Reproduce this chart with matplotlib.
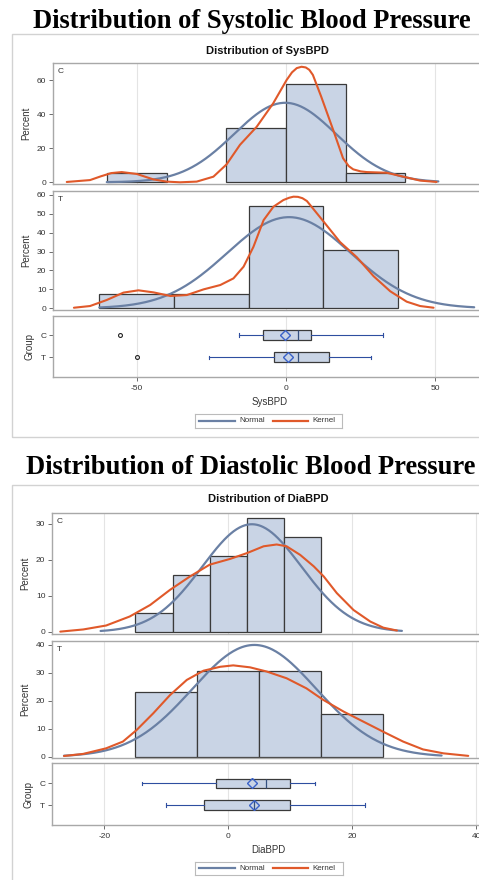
import numpy as np
import matplotlib
matplotlib.use("Agg")
import matplotlib.pyplot as plt
from matplotlib.patches import Rectangle

plt.rcParams['font.family'] = ['Liberation Sans', 'DejaVu Sans']
plt.rcParams['axes.unicode_minus'] = False

W, H, DPI = 479, 880, 100

# ---------------- data ----------------
groups = ["C", "T"]

# Systolic: histogram bins (left edge, width) and percentages
sys_c_left = [-60, -20, 0, 20]
sys_c_pct = [5.26, 31.58, 57.89, 5.26]
sys_c_width = 20
sys_t_left = [-62.5, -37.5, -12.5, 12.5]
sys_t_pct = [7.69, 7.69, 53.85, 30.77]
sys_t_width = 25

# Normal fit: mean, sd, curve range
sys_c_norm = dict(mean=-0.3, sd=17.1, lo=-60.0, hi=51.0)
sys_t_norm = dict(mean=1.0, sd=20.7, lo=-62.5, hi=63.0)

# Kernel density estimate (percent scale)
sys_c_kx = [-73.4, -65.6, -62.0, -58.5, -55.0, -50.0, -44.4, -40.0, -35.5, -29.9,
            -24.3, -19.9, -15.4, -9.8, -4.3, 0.2, 2.0, 3.6, 5.2, 6.6, 7.8, 9.0, 11.8, 15.8,
            19.1, 21.0, 22.5, 25.0, 27.0, 33.7, 39.3, 44.9, 50.4]
sys_c_ky = [0.2, 1.3, 3.5, 5.4, 6.0, 4.9, 1.7, 0.4, 0.0, 0.4,
            3.3, 10.5, 22.0, 32.6, 46.3, 60.0, 64.5, 67.0, 67.8, 67.4, 66.0, 63.0, 50.2, 30.7,
            14.1, 9.5, 7.6, 6.4, 6.0, 5.6, 3.3, 1.0, 0.2]
sys_t_kx = [-71.0, -65.6, -60.0, -54.4, -49.4, -44.3, -38.7, -33.2, -27.6, -22.0,
            -17.6, -14.2, -10.9, -7.5, -4.2, -0.9, 1.0, 2.5, 4.0, 5.5, 7.0, 12.5, 18.1,
            23.7, 29.3, 34.9, 40.4, 44.9, 49.4]
sys_t_ky = [0.3, 1.2, 4.4, 8.3, 9.5, 8.4, 6.5, 7.0, 10.0, 12.3,
            15.8, 22.0, 32.5, 46.6, 53.7, 57.2, 58.4, 59.0, 58.9, 58.2, 56.7, 46.0, 35.0,
            27.0, 17.0, 9.0, 3.5, 1.2, 0.3]

# Box plot statistics
sys_box = [
    dict(whislo=-15.6, q1=-7.6, med=4.1, q3=8.3, whishi=32.4, mean=-0.3, fliers=[-55.6]),
    dict(whislo=-25.8, q1=-4.0, med=4.1, q3=14.3, whishi=28.5, mean=0.8, fliers=[-50.0]),
]

# Diastolic
dia_c_left = [-15, -9, -3, 3, 9]
dia_c_pct = [5.26, 15.79, 21.05, 31.58, 26.32]
dia_c_width = 6
dia_t_left = [-15, -5, 5, 15]
dia_t_pct = [23.08, 30.77, 30.77, 15.38]
dia_t_width = 10

dia_c_norm = dict(mean=3.8, sd=8.0, lo=-20.6, hi=28.0)
dia_t_norm = dict(mean=4.2, sd=10.0, lo=-26.5, hi=34.4)

dia_c_kx = [-27.1, -23.4, -19.7, -15.9, -12.6, -9.4, -6.2, -3.0, 0.3, 3.0, 5.7,
            7.8, 9.4, 11.6, 13.8, 15.4, 17.5, 20.2, 22.9, 25.0, 27.2]
dia_c_ky = [0.1, 0.7, 1.8, 4.3, 7.5, 11.7, 15.4, 18.7, 20.3, 21.9, 23.8,
            24.3, 23.8, 21.4, 18.2, 15.4, 10.8, 6.1, 2.9, 1.2, 0.4]
dia_t_kx = [-26.5, -23.4, -19.7, -17.0, -14.8, -12.1, -9.4, -6.7, -4.0, -1.3, 0.8,
            3.5, 6.2, 9.4, 12.6, 15.3, 18.6, 21.8, 25.0, 28.2, 31.4, 34.7, 38.7]
dia_t_ky = [0.25, 1.0, 3.0, 5.4, 9.5, 15.5, 22.0, 27.4, 30.7, 32.1, 32.6,
            31.9, 30.4, 28.0, 24.4, 20.3, 16.1, 12.5, 8.9, 5.4, 2.6, 1.2, 0.3]

dia_box = [
    dict(whislo=-14.0, q1=-2.0, med=6.0, q3=10.0, whishi=14.0, mean=3.8, fliers=[]),
    dict(whislo=-10.0, q1=-4.0, med=4.2, q3=10.0, whishi=22.0, mean=4.15, fliers=[]),
]

# ---------------- style ----------------
BAR_FILL = "#C9D4E5"
BAR_EDGE = "#3A3A3A"
NORM_COL = "#6A80A4"
KERN_COL = "#E0592A"
WHISK_COL = "#2E4EA0"
MEAN_COL = "#3A62C8"
SPINE_COL = "#A8A8A8"
GRID_COL = "#E4E4E4"
TXT_COL = "#333333"
FRAME_COL = "#D2D2D2"

fig = plt.figure(figsize=(W / DPI, H / DPI), dpi=DPI)


def add_ax(left, top, right, bottom):
    return fig.add_axes([left / W, 1 - bottom / H, (right - left) / W, (bottom - top) / H])


def style_ax(ax, xticks):
    for s in ax.spines.values():
        s.set_color(SPINE_COL)
        s.set_linewidth(1.0)
    ax.set_xticks(xticks)
    ax.grid(axis="x", color=GRID_COL, linewidth=0.8)
    ax.set_axisbelow(True)
    ax.tick_params(axis="y", length=3, width=0.6, color="#555555", labelsize=6,
                   labelcolor=TXT_COL, pad=1.5)


def hist_panel(ax, left, pct, width, norm, kx, ky, label, xlim, ylim, yticks, xticks):
    style_ax(ax, xticks)
    ax.tick_params(axis="x", length=0, labelbottom=False)
    ax.bar(left, pct, width=width, align="edge", color=BAR_FILL,
           edgecolor=BAR_EDGE, linewidth=0.9, zorder=2)
    xs = np.linspace(norm["lo"], norm["hi"], 300)
    dens = np.exp(-0.5 * ((xs - norm["mean"]) / norm["sd"]) ** 2) / (norm["sd"] * np.sqrt(2 * np.pi))
    ax.plot(xs, dens * width * 100, color=NORM_COL, lw=1.6, zorder=3,
            solid_capstyle="round")
    ax.plot(kx, ky, color=KERN_COL, lw=1.5, zorder=4, solid_joinstyle="round",
            solid_capstyle="round")
    ax.set_xlim(*xlim)
    ax.set_ylim(*ylim)
    ax.set_yticks(yticks)
    ax.set_ylabel("Percent", fontsize=7, color=TXT_COL, labelpad=4)
    ax.text(0.012, 0.96, label, transform=ax.transAxes, fontsize=6, color=TXT_COL,
            ha="left", va="top")


def box_panel(ax, stats, xlim, ylim, xticks, xlabel):
    style_ax(ax, xticks)
    ax.bxp(stats, positions=[0, 1], vert=False, widths=0.44, showmeans=True,
           patch_artist=True, manage_ticks=False,
           boxprops=dict(facecolor=BAR_FILL, edgecolor=BAR_EDGE, linewidth=0.9),
           medianprops=dict(color="#34507F", linewidth=0.9),
           whiskerprops=dict(color=WHISK_COL, linewidth=0.8),
           capprops=dict(color=WHISK_COL, linewidth=0.8),
           capwidths=0.16,
           meanprops=dict(marker="D", markerfacecolor="none", markeredgecolor=MEAN_COL,
                          markersize=5, markeredgewidth=1.0),
           flierprops=dict(marker="o", markerfacecolor="none", markeredgecolor="#222222",
                           markersize=2.8, markeredgewidth=0.8))
    ax.set_xlim(*xlim)
    ax.set_ylim(*ylim)
    ax.set_yticks([0, 1])
    ax.set_yticklabels(groups)
    ax.tick_params(axis="x", length=3, width=0.6, color="#555555", labelsize=6,
                   labelcolor=TXT_COL, pad=3)
    ax.set_ylabel("Group", fontsize=7, color=TXT_COL, labelpad=4)
    ax.set_xlabel(xlabel, fontsize=7, color=TXT_COL, labelpad=3)


def legend_at(left, top, right, bottom):
    lax = add_ax(left, top, right, bottom)
    lax.set_xticks([])
    lax.set_yticks([])
    for s in lax.spines.values():
        s.set_color("#BBBBBB")
        s.set_linewidth(0.8)
    lax.set_xlim(0, right - left)
    lax.set_ylim(bottom - top, 0)
    mid = (bottom - top) / 2
    lax.plot([4, 40], [mid, mid], color=NORM_COL, lw=1.6)
    lax.text(44, mid, "Normal", fontsize=5.8, color=TXT_COL, va="center", ha="left")
    lax.plot([78, 113], [mid, mid], color=KERN_COL, lw=1.6)
    lax.text(117, mid, "Kernel", fontsize=5.8, color=TXT_COL, va="center", ha="left")


# ---------------- outer frames and headings ----------------
fig.patches.append(Rectangle((12.3 / W, 1 - 436.7 / H), 500 / W, (436.7 - 34.3) / H,
                             transform=fig.transFigure, fill=False,
                             edgecolor=FRAME_COL, linewidth=1.0))
fig.patches.append(Rectangle((12.3 / W, 1 - 900 / H), 500 / W, (900 - 485) / H,
                             transform=fig.transFigure, fill=False,
                             edgecolor=FRAME_COL, linewidth=1.0))

fig.text(252 / W, 1 - 28 / H, "Distribution of Systolic Blood Pressure",
         family="Liberation Serif", weight="bold", fontsize=19.1,
         ha="center", va="baseline", color="black")
fig.text(251 / W, 1 - 474 / H, "Distribution of Diastolic Blood Pressure",
         family="Liberation Serif", weight="bold", fontsize=19.1,
         ha="center", va="baseline", color="black")

fig.text(268 / W, 1 - 50.7 / H, "Distribution of SysBPD", fontsize=8,
         weight="bold", ha="center", va="center", color="#111111")
fig.text(268 / W, 1 - 499 / H, "Distribution of DiaBPD", fontsize=8,
         weight="bold", ha="center", va="center", color="#111111")

# ---------------- systolic ----------------
sx0, sunit = 286.0, 2.987
RIGHT = 486.0
sys_xlim = ((52.7 - sx0) / sunit, (RIGHT - sx0) / sunit)
sys_xt = [-50, 0, 50]

ax1 = add_ax(52.7, 63, RIGHT, 184)
hist_panel(ax1, sys_c_left, sys_c_pct, sys_c_width, sys_c_norm, sys_c_kx, sys_c_ky,
           "C", sys_xlim, (-1.0, 70.0), [0, 20, 40, 60], sys_xt)
ax2 = add_ax(52.7, 191, RIGHT, 310)
hist_panel(ax2, sys_t_left, sys_t_pct, sys_t_width, sys_t_norm, sys_t_kx, sys_t_ky,
           "T", sys_xlim, (-0.9, 62.0), [0, 10, 20, 30, 40, 50, 60], sys_xt)
ax3 = add_ax(52.7, 315.7, RIGHT, 377)
box_panel(ax3, sys_box, sys_xlim, (1.88, -0.865), sys_xt, "SysBPD")
legend_at(195, 414, 342, 427.7)

# ---------------- diastolic ----------------
dx0, dunit = 228.3, 6.2
dia_xlim = ((51.7 - dx0) / dunit, (RIGHT - dx0) / dunit)
dia_xt = [-20, 0, 20, 40]

ax4 = add_ax(51.7, 513.3, RIGHT, 634)
hist_panel(ax4, dia_c_left, dia_c_pct, dia_c_width, dia_c_norm, dia_c_kx, dia_c_ky,
           "C", dia_xlim, (-0.56, 32.96), [0, 10, 20, 30], dia_xt)
ax5 = add_ax(51.7, 641, RIGHT, 758.3)
hist_panel(ax5, dia_t_left, dia_t_pct, dia_t_width, dia_t_norm, dia_t_kx, dia_t_ky,
           "T", dia_xlim, (-0.57, 41.3), [0, 10, 20, 30, 40], dia_xt)
ax6 = add_ax(51.7, 763.3, RIGHT, 825)
box_panel(ax6, dia_box, dia_xlim, (1.92, -0.92), dia_xt, "DiaBPD")
legend_at(195, 861.7, 343, 875)

fig.savefig("out.png", dpi=DPI, facecolor="white")
